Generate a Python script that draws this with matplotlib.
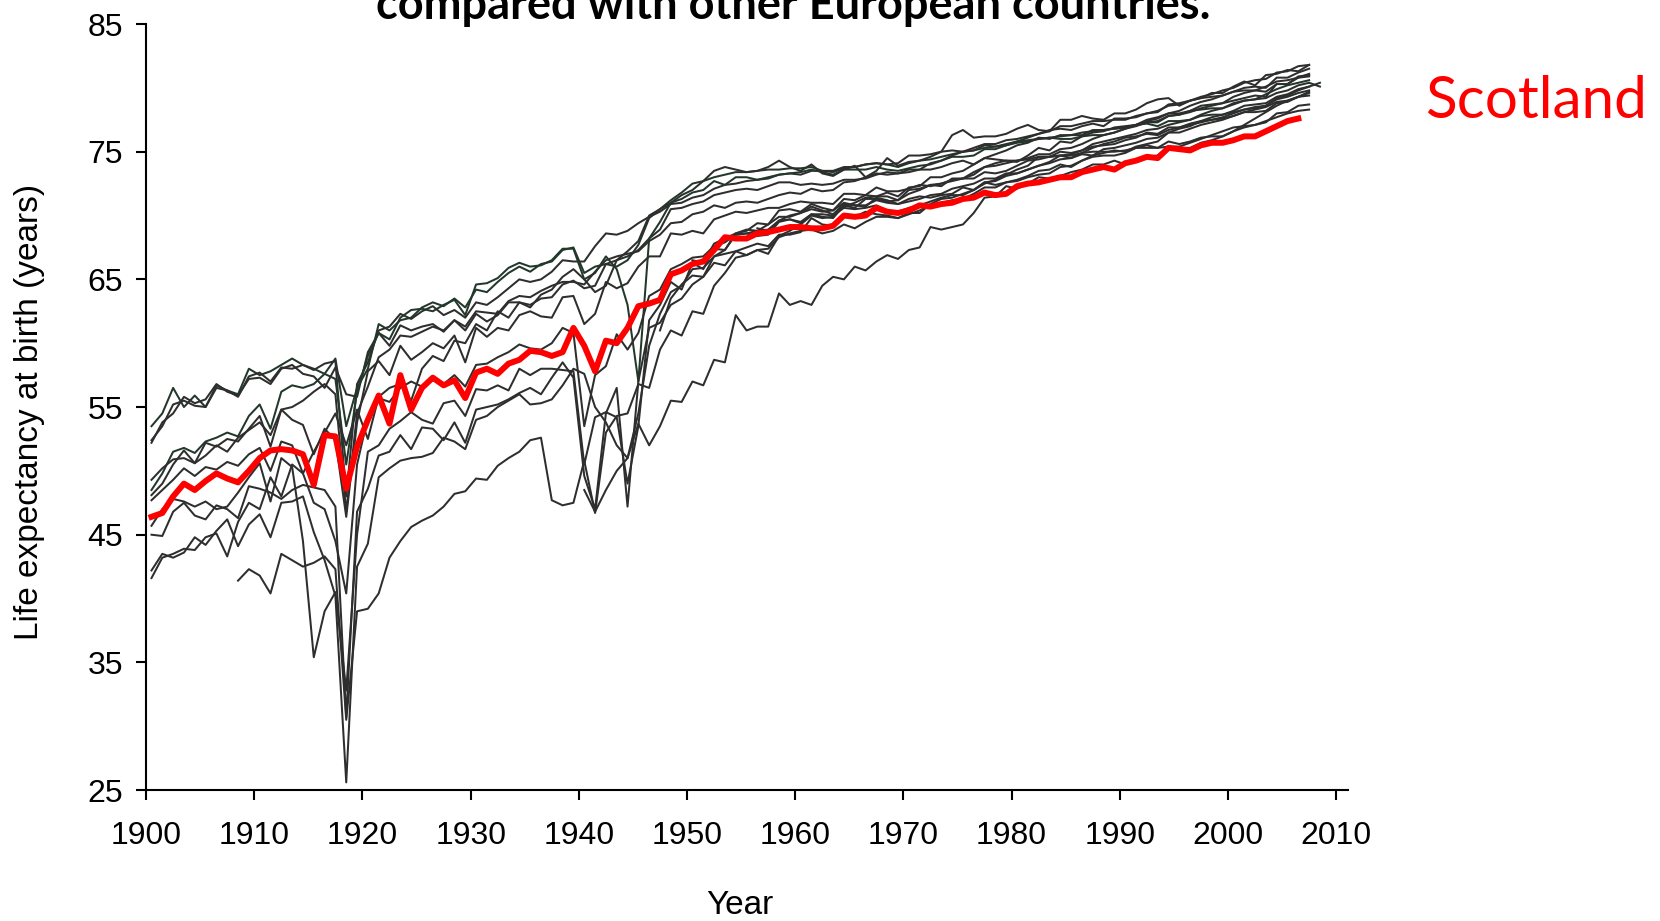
import numpy as np
import matplotlib
matplotlib.use("Agg")
import matplotlib.pyplot as plt

# life expectancy at birth, both sexes
# (first year of each series given separately, points drawn at mid-year)
norway_start = 1900
norway = [53.5, 54.5, 56.5, 55.0, 55.9, 55.0, 56.7, 56.3, 56.0, 58.0,
          57.5, 57.8, 58.3, 58.8, 58.3, 58.0, 57.6, 58.8, 53.5, 56.5,
          58.0, 61.5, 61.0, 61.8, 62.0, 62.8, 63.2, 62.9, 63.5, 62.8,
          64.2, 64.0, 64.8, 65.5, 66.0, 65.6, 66.2, 66.4, 67.3, 67.5,
          65.5, 66.0, 66.2, 66.0, 66.5, 67.7, 69.8, 70.5, 71.2, 71.8,
          72.5, 72.7, 73.0, 73.2, 73.4, 73.4, 73.5, 73.6, 73.6, 73.7,
          73.7, 73.8, 73.5, 73.4, 73.7, 73.8, 74.0, 74.1, 74.0, 73.8,
          74.1, 74.3, 74.4, 74.6, 74.8, 75.0, 75.1, 75.3, 75.4, 75.5,
          75.7, 75.8, 76.0, 76.1, 76.0, 76.0, 76.2, 76.3, 76.3, 76.5,
          76.8, 77.1, 77.3, 77.3, 77.8, 77.9, 78.2, 78.3, 78.4, 78.4,
          78.8, 79.0, 79.1, 79.5, 79.9, 80.2, 80.4, 80.6]

sweden_start = 1900
sweden = [52.4, 53.5, 55.2, 55.5, 55.1, 55.0, 56.5, 56.3, 55.8, 57.4,
          57.7, 57.0, 58.1, 58.0, 58.3, 57.9, 58.4, 58.6, 48.0, 56.8,
          58.5, 61.0, 61.3, 62.3, 61.9, 62.5, 62.9, 62.2, 62.6, 62.0,
          63.2, 63.0, 63.6, 64.3, 65.0, 64.8, 65.0, 65.6, 66.5, 66.4,
          66.4, 67.6, 68.6, 68.5, 68.8, 69.4, 69.9, 70.3, 70.9, 71.0,
          71.4, 71.6, 72.1, 72.4, 72.5, 72.7, 72.8, 72.9, 73.2, 73.3,
          73.2, 73.5, 73.5, 73.5, 73.8, 73.8, 74.0, 74.1, 74.0, 74.1,
          74.7, 74.7, 74.8, 75.0, 75.1, 75.0, 75.1, 75.5, 75.4, 75.6,
          75.8, 76.1, 76.4, 76.7, 76.8, 76.7, 77.0, 77.2, 77.0, 77.6,
          77.6, 77.7, 78.0, 78.1, 78.7, 78.8, 79.0, 79.2, 79.3, 79.4,
          79.7, 79.8, 79.8, 80.1, 80.5, 80.6, 80.8, 80.9]

denmark_start = 1900
denmark = [52.2, 53.8, 54.5, 55.8, 55.3, 55.6, 56.8, 56.2, 55.9, 57.2,
           57.3, 56.8, 58.0, 58.3, 57.6, 57.4, 56.5, 58.1, 56.0, 55.8,
           59.3, 60.8, 59.8, 61.4, 61.0, 61.3, 61.5, 60.9, 61.8, 61.0,
           62.3, 61.7, 62.2, 63.2, 63.2, 63.0, 63.5, 63.6, 64.6, 64.9,
           64.3, 64.5, 66.2, 66.5, 66.8, 67.3, 68.2, 68.9, 70.5, 70.6,
           70.9, 71.1, 71.6, 71.8, 72.0, 72.1, 72.0, 72.3, 72.6, 72.6,
           72.4, 72.5, 72.4, 72.5, 72.8, 72.8, 72.9, 73.2, 73.4, 73.3,
           73.4, 73.6, 73.6, 73.8, 74.1, 74.3, 74.0, 74.5, 74.4, 74.3,
           74.3, 74.4, 74.6, 74.6, 74.7, 74.7, 74.9, 75.0, 75.0, 75.0,
           75.1, 75.3, 75.3, 75.3, 75.4, 75.4, 75.7, 76.0, 76.3, 76.6,
           76.9, 77.0, 77.1, 77.4, 77.7, 78.0, 78.2, 78.3]

netherlands_start = 1900
netherlands = [48.5, 49.8, 51.5, 51.8, 51.4, 52.3, 52.6, 53.0, 52.7, 54.3,
               55.2, 53.3, 56.2, 56.7, 56.5, 56.8, 57.6, 57.2, 50.5, 56.2,
               59.0, 60.8, 60.3, 62.0, 62.6, 62.7, 62.5, 63.0, 63.4, 62.2,
               64.6, 64.7, 65.1, 65.9, 66.3, 66.0, 66.1, 66.5, 67.4, 67.4,
               65.0, 65.5, 66.8, 65.8, 63.0, 57.0, 68.2, 69.5, 71.0, 71.3,
               71.8, 72.0, 72.7, 72.4, 73.0, 73.0, 72.8, 73.0, 73.2, 73.3,
               73.4, 73.6, 73.4, 73.2, 73.6, 73.6, 73.6, 73.8, 73.6, 73.5,
               73.7, 73.9, 74.0, 74.3, 74.6, 74.6, 74.7, 75.2, 75.2, 75.5,
               75.8, 75.9, 76.0, 76.1, 76.2, 76.3, 76.3, 76.7, 76.7, 76.8,
               76.9, 77.1, 77.2, 77.0, 77.4, 77.4, 77.5, 77.8, 77.9, 77.9,
               78.1, 78.3, 78.4, 78.6, 79.2, 79.4, 79.8, 80.1, 80.4]

england_wales_start = 1900
england_wales = [48.1, 49.0, 50.5, 51.6, 50.6, 52.2, 51.9, 52.5, 52.3, 53.3,
                 54.3, 51.9, 54.8, 54.0, 53.6, 51.3, 53.3, 52.4, 46.4, 53.8,
                 57.8, 58.6, 57.5, 59.8, 58.7, 59.3, 60.0, 59.6, 60.6, 58.5,
                 61.2, 60.5, 61.2, 61.0, 62.2, 62.5, 62.1, 62.0, 63.6, 63.7,
                 61.5, 62.3, 64.8, 64.3, 64.7, 66.0, 66.8, 66.8, 68.6, 68.5,
                 68.8, 68.6, 69.7, 70.0, 70.3, 70.2, 70.4, 70.6, 70.6, 70.9,
                 71.1, 71.0, 71.0, 70.9, 71.7, 71.7, 71.6, 72.2, 71.9, 71.9,
                 72.1, 72.4, 72.3, 72.5, 72.7, 72.9, 72.9, 73.4, 73.3, 73.5,
                 73.9, 74.3, 74.4, 74.6, 75.0, 74.9, 75.1, 75.4, 75.5, 75.6,
                 75.9, 76.1, 76.5, 76.4, 76.9, 76.9, 77.1, 77.3, 77.5, 77.7,
                 78.0, 78.3, 78.5, 78.6, 79.1, 79.3, 79.6, 79.8]

switzerland_start = 1900
switzerland = [49.3, 50.2, 50.9, 51.0, 50.6, 51.2, 52.0, 51.5, 52.6, 53.2,
               53.8, 52.8, 54.8, 55.0, 55.5, 56.2, 56.8, 56.0, 46.8, 54.5,
               56.6, 58.9, 59.5, 60.6, 60.5, 60.9, 61.3, 61.0, 61.8, 61.3,
               62.5, 62.4, 62.3, 63.3, 63.7, 63.6, 64.1, 64.5, 64.8, 64.8,
               64.6, 65.6, 66.5, 66.8, 67.0, 67.2, 68.0, 68.5, 69.4, 69.5,
               70.1, 70.3, 70.8, 70.6, 71.0, 71.1, 71.0, 71.3, 71.6, 71.8,
               71.7, 72.1, 71.9, 72.0, 72.6, 72.7, 73.0, 73.3, 73.2, 73.3,
               73.6, 73.6, 74.1, 74.3, 74.7, 75.0, 75.3, 75.6, 75.6, 75.9,
               76.0, 76.2, 76.4, 76.6, 77.0, 77.0, 77.2, 77.4, 77.4, 77.5,
               77.5, 77.8, 78.0, 78.2, 78.6, 78.7, 79.0, 79.3, 79.5, 79.8,
               80.0, 80.4, 80.6, 80.7, 81.2, 81.3, 81.7, 81.8]

belgium_start = 1900
belgium = [47.7, 48.5, 49.3, 50.2, 49.6, 50.3, 50.1, 50.7, 50.4, 51.3,
           51.8, 50.0, 52.3, 52.0, 49.8, 47.5, 47.0, 44.5, 40.4, 50.5,
           54.2, 55.7, 55.4, 56.5, 57.0, 56.6, 57.1, 56.8, 57.5, 56.6,
           58.3, 58.4, 58.9, 59.3, 59.9, 59.6, 59.5, 60.0, 61.2, 60.8,
           53.5, 57.5, 58.2, 60.7, 59.5, 60.8, 63.7, 64.2, 65.8, 66.2,
           66.7, 66.8, 67.6, 67.9, 68.5, 68.6, 68.8, 68.9, 69.6, 70.0,
           70.2, 70.7, 70.4, 70.1, 70.9, 70.8, 70.8, 71.2, 71.0, 70.9,
           71.1, 71.3, 71.6, 71.7, 72.1, 72.3, 72.5, 72.9, 72.9, 73.3,
           73.3, 73.6, 73.9, 74.1, 74.4, 74.5, 74.9, 75.3, 75.6, 75.8,
           76.1, 76.2, 76.4, 76.3, 76.7, 76.9, 77.2, 77.4, 77.5, 77.6,
           77.8, 78.1, 78.1, 78.2, 78.8, 78.9, 79.3, 79.6]

france_start = 1900
france = [45.7, 47.0, 47.8, 47.6, 47.2, 47.6, 47.0, 47.2, 48.3, 49.5,
          50.6, 47.6, 51.0, 50.3, 44.5, 35.4, 39.0, 40.5, 32.8, 45.0,
          51.5, 52.0, 53.3, 53.9, 54.6, 54.0, 53.7, 55.3, 55.5, 54.3,
          56.4, 56.3, 56.7, 56.3, 58.0, 57.5, 58.0, 58.0, 57.9, 57.8,
          50.5, 54.2, 54.6, 54.2, 49.0, 53.5, 61.8, 63.0, 64.8, 64.2,
          66.3, 65.8, 67.4, 67.3, 68.6, 68.9, 68.8, 69.3, 70.4, 70.5,
          70.3, 70.9, 70.6, 70.4, 71.3, 71.2, 71.6, 71.5, 71.5, 71.2,
          72.0, 72.1, 72.4, 72.5, 72.8, 72.9, 73.2, 73.8, 73.9, 74.1,
          74.3, 74.5, 74.8, 74.8, 75.2, 75.3, 75.6, 76.0, 76.3, 76.5,
          76.8, 77.0, 77.3, 77.4, 77.8, 77.9, 78.1, 78.4, 78.6, 78.8,
          79.0, 79.2, 79.4, 79.3, 80.3, 80.3, 80.8, 81.1]

finland_start = 1900
finland = [45.0, 44.9, 46.8, 47.5, 46.5, 46.2, 47.3, 47.0, 46.3, 48.8,
           48.6, 48.3, 47.8, 48.5, 48.9, 48.7, 48.5, 47.2, 30.7, 46.8,
           48.6, 51.2, 51.5, 52.8, 51.7, 53.4, 53.3, 52.4, 53.8, 52.2,
           54.8, 55.0, 55.2, 55.6, 56.1, 56.5, 56.0, 57.3, 58.5, 57.3,
           49.6, 47.0, 54.5, 56.5, 47.2, 57.0, 61.2, 61.6, 63.0, 63.5,
           64.6, 65.2, 66.3, 66.1, 67.2, 66.9, 67.3, 67.4, 68.3, 68.6,
           68.8, 68.9, 68.6, 68.8, 69.3, 69.0, 69.5, 69.9, 69.9, 69.8,
           70.2, 70.2, 70.9, 71.3, 71.4, 71.7, 72.0, 72.5, 72.8, 73.2,
           73.6, 73.9, 74.6, 74.6, 74.7, 74.5, 74.8, 74.7, 74.9, 75.1,
           75.0, 75.4, 75.6, 75.8, 76.5, 76.5, 76.8, 77.1, 77.3, 77.5,
           77.8, 78.1, 78.3, 78.5, 78.9, 79.0, 79.3, 79.4]

italy_start = 1900
italy = [42.2, 43.5, 43.2, 43.6, 44.8, 44.2, 45.3, 46.2, 44.1, 45.8,
         46.6, 44.8, 47.5, 47.6, 48.0, 45.2, 43.0, 40.2, 25.6, 42.5,
         44.3, 49.5, 50.2, 50.8, 51.0, 51.1, 51.4, 52.6, 52.3, 51.7,
         54.0, 54.3, 55.0, 55.5, 56.0, 55.2, 55.3, 55.6, 56.7, 58.0,
         57.6, 55.0, 53.8, 52.0, 51.0, 54.5, 59.8, 62.3, 64.0, 64.5,
         65.8, 65.9, 66.8, 67.3, 68.5, 68.6, 68.4, 68.5, 69.5, 69.7,
         69.4, 70.1, 69.9, 69.8, 70.8, 70.6, 71.3, 71.3, 71.1, 71.2,
         71.7, 72.0, 72.4, 72.3, 72.9, 72.9, 73.4, 73.8, 74.1, 74.3,
         74.2, 74.7, 75.3, 75.1, 75.8, 75.7, 76.2, 76.5, 76.6, 76.9,
         77.0, 77.1, 77.4, 77.6, 78.0, 78.2, 78.6, 78.9, 79.1, 79.4,
         79.7, 80.0, 80.1, 80.0, 80.8, 80.8, 81.2, 81.5]

iceland_start = 1900
iceland = [41.6, 43.2, 43.5, 43.9, 43.8, 44.8, 45.1, 43.3, 46.0, 47.5,
           47.0, 49.5, 48.0, 50.5, 49.8, 51.5, 53.0, 54.5, 52.0, 54.8,
           52.5, 55.8, 56.5, 56.8, 55.5, 58.0, 59.0, 58.6, 60.2, 60.0,
           61.5, 61.0, 62.5, 62.0, 63.2, 62.8, 63.8, 64.2, 65.2, 65.8,
           65.0, 64.0, 64.5, 66.5, 67.2, 68.0, 70.0, 70.5, 71.0, 71.6,
           72.0, 72.7, 73.5, 73.8, 73.6, 73.4, 73.5, 73.8, 74.3, 73.8,
           73.5, 74.0, 73.3, 73.1, 73.6, 73.9, 73.0, 73.5, 74.5, 73.9,
           74.2, 74.3, 74.6, 75.0, 76.3, 76.7, 76.1, 76.2, 76.2, 76.4,
           76.8, 77.1, 76.7, 76.6, 77.5, 77.5, 77.8, 77.6, 77.5, 78.0,
           78.0, 78.3, 78.8, 79.1, 79.2, 78.6, 79.0, 79.2, 79.6, 79.6,
           80.1, 80.5, 80.2, 81.0, 81.1, 81.4, 81.3, 81.8]

spain_start = 1908
spain = [41.4, 42.3,
         41.8, 40.4, 43.5, 43.0, 42.5, 42.8, 43.3, 42.3, 30.5, 39.0,
         39.2, 40.4, 43.2, 44.5, 45.6, 46.1, 46.5, 47.2, 48.2, 48.4,
         49.4, 49.3, 50.4, 51.0, 51.5, 52.4, 52.6, 47.7, 47.3, 47.5,
         50.8, 46.7, 53.0, 54.3, 54.5, 56.8, 56.5, 59.5, 61.0, 60.6,
         62.5, 62.3, 64.5, 65.5, 66.7, 66.9, 67.3, 67.0, 68.4, 68.8,
         69.3, 70.0, 69.8, 69.9, 70.7, 71.0, 71.4, 71.5, 71.8, 71.5,
         72.2, 72.3, 73.0, 73.0, 73.3, 73.5, 74.0, 74.5, 74.8, 75.1,
         75.5, 75.7, 76.1, 76.0, 76.3, 76.3, 76.5, 76.6, 76.7, 76.8,
         76.9, 77.1, 77.5, 77.7, 78.0, 78.0, 78.2, 78.6, 78.7, 78.8,
         79.3, 79.6, 79.8, 79.7, 80.3, 80.3, 80.9, 81.0]

portugal_start = 1940
portugal = [48.5, 46.8, 48.5, 50.0, 51.0, 53.7, 52.0, 53.5, 55.5, 55.4,
            57.0, 56.7, 58.7, 58.5, 62.2, 61.0, 61.3, 61.3, 63.9, 63.0,
            63.3, 63.0, 64.5, 65.2, 65.0, 66.0, 65.7, 66.4, 66.9, 66.6,
            67.3, 67.5, 69.1, 68.9, 69.1, 69.3, 70.2, 71.4, 71.5, 72.3,
            72.1, 72.5, 73.0, 72.9, 73.1, 73.4, 73.6, 74.0, 74.0, 74.3,
            74.0, 74.3, 74.6, 74.7, 75.4, 75.3, 75.3, 75.7, 75.9, 76.2,
            76.6, 76.9, 77.1, 77.3, 78.0, 78.1, 78.6, 78.7]

austria_start = 1947
austria = [61.0, 63.5, 64.6,
           65.3, 65.2, 66.8, 67.0, 67.2, 67.5, 67.8, 67.6, 68.5, 68.5,
           68.7, 69.8, 69.3, 69.2, 70.1, 69.9, 70.3, 70.1, 70.0, 69.8,
           70.1, 70.4, 70.8, 71.0, 71.2, 71.3, 71.7, 72.2, 72.2, 72.6,
           72.7, 73.0, 73.2, 73.3, 73.8, 73.9, 74.3, 74.7, 75.2, 75.3,
           75.5, 75.7, 76.0, 76.1, 76.5, 76.8, 77.0, 77.4, 77.7, 77.9,
           78.2, 78.6, 78.7, 78.8, 79.3, 79.5, 79.9, 80.1]

ireland_start = 1950
ireland = [66.5, 66.3, 67.8, 68.2, 68.6, 68.8, 69.4, 69.3, 69.9, 69.9,
           70.2, 70.5, 70.3, 70.4, 71.0, 70.8, 70.7, 71.4, 71.2, 70.9,
           71.3, 71.5, 71.4, 71.6, 71.7, 72.2, 72.0, 72.6, 72.4, 72.6,
           72.8, 73.1, 73.5, 73.6, 74.0, 73.8, 74.3, 74.6, 74.7, 74.7,
           74.9, 75.3, 75.5, 75.3, 75.8, 75.6, 75.8, 76.1, 76.2, 76.2,
           76.6, 77.1, 77.6, 78.1, 78.6, 79.0, 79.3, 79.7]

west_germany_start = 1956
west_germany = [69.0, 68.8, 69.6, 69.7,
                69.5, 70.1, 70.1, 70.0, 70.6, 70.5, 70.6, 70.8, 70.4, 70.3,
                70.6, 70.8, 71.1, 71.4, 71.6, 71.6, 72.0, 72.6, 72.7, 73.1,
                73.3, 73.6, 73.9, 74.2, 74.7, 74.8, 75.1, 75.6, 75.8, 76.0,
                76.2, 76.4, 76.7, 76.8, 77.1, 77.3, 77.5, 77.9, 78.2, 78.4,
                78.7, 79.0, 79.1, 79.2, 79.6, 79.8, 80.2, 80.4, 80.1]

scotland_start = 1900
scotland = [46.4, 46.7, 48.0, 49.0, 48.5, 49.2, 49.8, 49.4, 49.1, 50.0,
            51.0, 51.6, 51.7, 51.6, 51.3, 48.9, 52.8, 52.7, 48.6, 51.9,
            54.0, 55.9, 53.7, 57.5, 54.8, 56.5, 57.3, 56.7, 57.1, 55.7,
            57.7, 58.0, 57.6, 58.4, 58.7, 59.4, 59.3, 59.0, 59.3, 61.2,
            59.8, 57.8, 60.2, 60.0, 61.2, 62.9, 63.1, 63.4, 65.4, 65.7,
            66.2, 66.4, 67.3, 68.3, 68.2, 68.2, 68.6, 68.7, 68.9, 69.1,
            69.1, 69.0, 69.0, 69.2, 70.0, 69.9, 70.0, 70.6, 70.3, 70.2,
            70.4, 70.8, 70.7, 70.9, 71.0, 71.3, 71.4, 71.8, 71.6, 71.7,
            72.3, 72.5, 72.6, 72.8, 73.0, 73.0, 73.4, 73.6, 73.8, 73.6,
            74.1, 74.3, 74.6, 74.5, 75.3, 75.2, 75.1, 75.5, 75.7, 75.7,
            75.9, 76.2, 76.2, 76.6, 77.0, 77.4, 77.6]

others = [(norway_start, norway), (sweden_start, sweden),
          (denmark_start, denmark), (netherlands_start, netherlands),
          (england_wales_start, england_wales),
          (switzerland_start, switzerland), (belgium_start, belgium),
          (france_start, france), (finland_start, finland),
          (italy_start, italy), (iceland_start, iceland),
          (spain_start, spain), (portugal_start, portugal),
          (austria_start, austria), (ireland_start, ireland),
          (west_germany_start, west_germany)]
greenish = [0, 3]   # a couple of lines look slightly green in the scan

x_ticks = [1900, 1910, 1920, 1930, 1940, 1950, 1960, 1970, 1980, 1990, 2000, 2010]
y_ticks = [25, 35, 45, 55, 65, 75, 85]

plt.rcParams['font.family'] = ['Liberation Sans', 'DejaVu Sans']

fig = plt.figure(figsize=(16.6, 9.21), dpi=100)
fig.patch.set_facecolor('white')
ax = fig.add_axes([0.0880, 0.1422, 0.7241, 0.8317])

for i, (start, vals) in enumerate(others):
    yrs = np.arange(start, start + len(vals)) + 0.5
    col = '#22382a' if i in greenish else '#2e2e2e'
    ax.plot(yrs, vals, color=col, lw=1.45, zorder=2)

sc_years = np.arange(scotland_start, scotland_start + len(scotland)) + 0.5
ax.plot(sc_years, scotland, color='#ff0000', lw=4.3, zorder=3)

ax.set_xlim(1900, 2011.1)
ax.set_ylim(25, 85)
ax.set_xticks(x_ticks)
ax.set_yticks(y_ticks)
ax.spines['top'].set_visible(False)
ax.spines['right'].set_visible(False)
for s in ['left', 'bottom']:
    ax.spines[s].set_linewidth(1.5)
ax.tick_params(direction='out', length=7.5, width=1.5, labelsize=23)
ax.tick_params(axis='x', pad=15)
ax.tick_params(axis='y', pad=9)

fig.text(0.018, 0.5527, 'Life expectancy at birth (years)', rotation=90,
         ha='center', va='center', fontsize=24)
fig.text(0.4458, 0.017, 'Year', ha='center', va='center', fontsize=24)

# the first line of the title lies above the picture; only its second
# line shows, cut at the top edge as in the original slide
fig.text(0.478, 0.9794, 'compared with other European countries.',
         ha='center', va='baseline', fontsize=32.5, fontweight='bold',
         family=['Lato', 'DejaVu Sans'])
fig.text(0.8584, 0.8719, 'Scotland', ha='left', va='baseline',
         fontsize=42, color='#ff0000', family=['Lato', 'DejaVu Sans'])

fig.savefig('out.png', dpi=100, facecolor='white')
